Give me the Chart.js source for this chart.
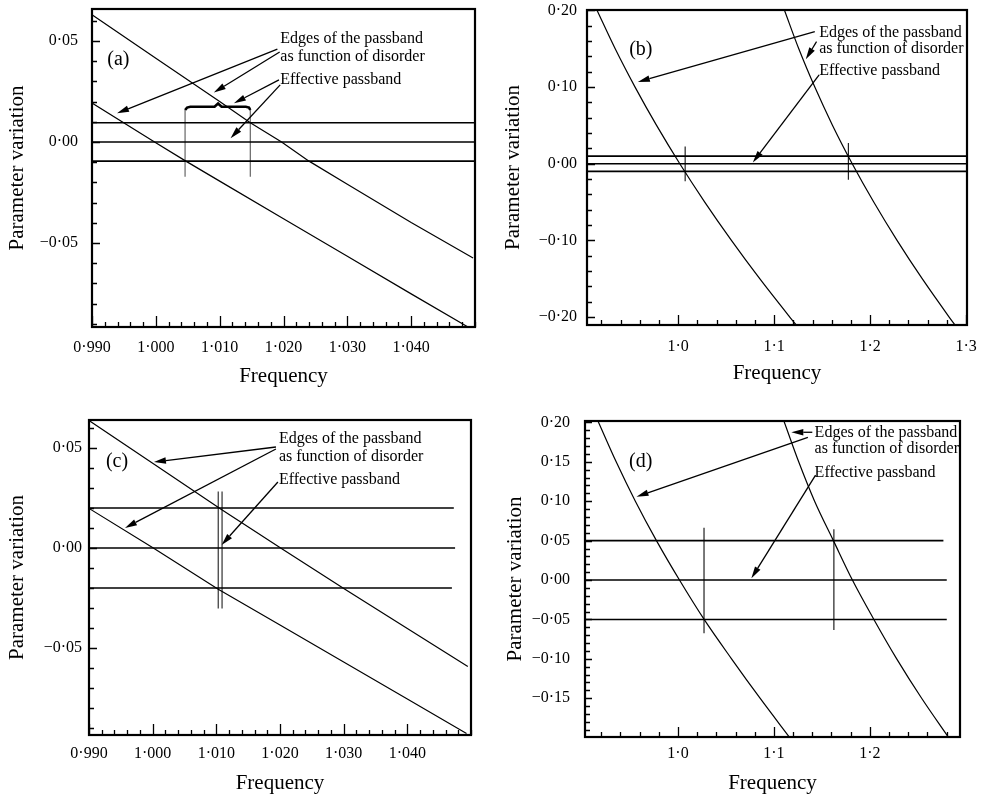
<!DOCTYPE html>
<html>
<head>
<meta charset="utf-8">
<title>Passband edges vs disorder</title>
<script src="https://cdn.jsdelivr.net/npm/chart.js@4.4.1/dist/chart.umd.min.js"></script>
<style>
  html, body { margin: 0; padding: 0; background: #fff; }
  #figure { position: relative; width: 981px; height: 797px; overflow: hidden; }
  #figure canvas { position: absolute; }
</style>
</head>
<body>
<div id="figure">
  <canvas id="panel-a" width="490" height="400" style="left:0;top:0"></canvas>
  <canvas id="panel-b" width="491" height="400" style="left:490px;top:0"></canvas>
  <canvas id="panel-c" width="490" height="397" style="left:0;top:400px"></canvas>
  <canvas id="panel-d" width="491" height="397" style="left:490px;top:400px"></canvas>
</div>
<script>
// ---- panel (a) ----
const freqUpperA = [0.990, 1.000, 1.010, 1.0148, 1.0197, 1.024, 1.030, 1.040, 1.0497];
const edgeUpperA = [0.0629, 0.0414, 0.0200, 0.0095, 0.0, -0.0095, -0.0209, -0.0399, -0.0574];
const freqLowerA = [0.990, 0.9998, 1.0047, 1.010, 1.020, 1.030, 1.040, 1.0489];
const edgeLowerA = [0.0193, 0.0, -0.0095, -0.0194, -0.0380, -0.0566, -0.0752, -0.0916];
const bandLevelA = [0.0095, 0, -0.0095];
const bandStartA = [0.990, 0.990, 0.990];
const bandEndA = [1.050, 1.050, 1.050];
const markerFreqA = [1.00458, 1.0148];
const markerTopA = [0.0158, 0.0158];
const markerBottomA = [-0.0172, -0.0172];
const braceFreqA = [1.00458, 1.0049, 1.0054, 1.0092, 1.00975, 1.0103, 1.0141, 1.0146, 1.0148];
const braceLevelA = [0.0158, 0.0170, 0.0174, 0.0174, 0.0190, 0.0174, 0.0174, 0.0170, 0.0158];
const xMajorA = [0.990, 1.000, 1.010, 1.020, 1.030, 1.040];
const xLabelA = ['0·990', '1·000', '1·010', '1·020', '1·030', '1·040'];
const yMajorA = [0.05, 0, -0.05];
const yLabelA = ['0·05', '0·00', '−0·05'];

// ---- panel (b) ----
const freqLeftB = [0.9153, 0.9344, 0.9551, 0.9775, 1.0017, 1.0277, 1.0555, 1.0850, 1.1163, 1.123];
const edgeLeftB = [0.2006, 0.15, 0.10, 0.05, 0.0, -0.05, -0.10, -0.15, -0.20, -0.2104];
const freqRightB = [1.1107, 1.1257, 1.1424, 1.1609, 1.1814, 1.2038, 1.2281, 1.2543, 1.2824, 1.2885];
const edgeRightB = [0.2006, 0.15, 0.10, 0.05, 0.0, -0.05, -0.10, -0.15, -0.20, -0.2104];
const bandLevelB = [0.01, 0, -0.01];
const bandStartB = [0.905, 0.905, 0.905];
const bandEndB = [1.301, 1.301, 1.301];
const markerFreqB = [1.0073, 1.1774];
const markerTopB = [0.0225, 0.027];
const markerBottomB = [-0.023, -0.021];
const xMajorB = [1.0, 1.1, 1.2, 1.3];
const xLabelB = ['1·0', '1·1', '1·2', '1·3'];
const yMajorB = [0.2, 0.1, 0, -0.1, -0.2];
const yLabelB = ['0·20', '0·10', '0·00', '−0·10', '−0·20'];

// ---- panel (c) ----
const freqUpperC = [0.990, 1.000, 1.0108, 1.0201, 1.0302, 1.040, 1.0495];
const edgeUpperC = [0.0637, 0.0424, 0.0193, 0.0, -0.0206, -0.0402, -0.0593];
const freqLowerC = [0.990, 1.0001, 1.0103, 1.020, 1.030, 1.040, 1.0493];
const edgeLowerC = [0.0198, 0.0, -0.0206, -0.0385, -0.0570, -0.0755, -0.0927];
const bandLevelC = [0.02, 0, -0.02];
const bandStartC = [0.990, 0.990, 0.990];
const bandEndC = [1.0473, 1.0475, 1.0470];
const markerFreqC = [1.0103, 1.0109];
const markerTopC = [0.0282, 0.0282];
const markerBottomC = [-0.0302, -0.0302];
const xMajorC = [0.990, 1.000, 1.010, 1.020, 1.030, 1.040];
const xLabelC = ['0·990', '1·000', '1·010', '1·020', '1·030', '1·040'];
const yMajorC = [0.05, 0, -0.05];
const yLabelC = ['0·05', '0·00', '−0·05'];

// ---- panel (d) ----
const freqLeftD = [0.9165, 0.9355, 0.9555, 0.9775, 1.0015, 1.0272, 1.0558, 1.0855, 1.1165];
const edgeLeftD = [0.2018, 0.15, 0.10, 0.05, 0.0, -0.05, -0.10, -0.15, -0.20];
const freqRightD = [1.1104, 1.1258, 1.1424, 1.1620, 1.1818, 1.2042, 1.2280, 1.2540, 1.2822];
const edgeRightD = [0.2018, 0.15, 0.10, 0.05, 0.0, -0.05, -0.10, -0.15, -0.20];
const bandLevelD = [0.05, 0, -0.05];
const bandStartD = [0.903, 0.903, 0.903];
const bandEndD = [1.2767, 1.2802, 1.2802];
const markerFreqD = [1.0271, 1.1625];
const markerTopD = [0.0664, 0.0643];
const markerBottomD = [-0.0677, -0.0635];
const xMajorD = [1.0, 1.1, 1.2];
const xLabelD = ['1·0', '1·1', '1·2'];
const yMajorD = [0.20, 0.15, 0.10, 0.05, 0, -0.05, -0.10, -0.15];
const yLabelD = ['0·20', '0·15', '0·10', '0·05', '0·00', '−0·05', '−0·10', '−0·15'];

const SERIF = '"Liberation Serif", "DejaVu Serif", "Times New Roman", serif';
Chart.defaults.font.family = SERIF;
Chart.defaults.color = '#000';

const noteLines = ['Edges of the passband', 'as function of disorder', 'Effective passband'];

// ticks every `step` inside [min, max]; the labelled ones come from the major lists
function stepTicks(min, max, step) {
  const ticks = [];
  const first = Math.ceil(min / step - 1e-6);
  const last = Math.floor(max / step + 1e-6);
  for (let i = first; i <= last; i++) {
    ticks.push({ value: +(i * step).toFixed(6) });
  }
  return ticks;
}

function labelFor(value, majors, labels, step) {
  const k = majors.findIndex(m => Math.abs(m - value) < step / 10);
  return k >= 0 ? labels[k] : '';
}

function line(xs, ys, width, color, smooth) {
  return {
    data: xs.map((v, i) => ({ x: v, y: ys[i] })),
    showLine: true,
    borderColor: color,
    borderWidth: width,
    pointRadius: 0,
    fill: false,
    tension: 0,
    cubicInterpolationMode: smooth ? 'monotone' : 'default'
  };
}

function bands(levels, starts, ends) {
  return levels.map((lv, i) => line([starts[i], ends[i]], [lv, lv], 1.6, '#000', false));
}

function markers(freqs, tops, bottoms, color) {
  return freqs.map((f, i) => line([f, f], [tops[i], bottoms[i]], 1.2, color, false));
}

function scaleOptions(axis, s) {
  return {
    type: 'linear',
    position: axis === 'x' ? 'bottom' : 'left',
    min: s.min,
    max: s.max,
    grid: { display: false, drawTicks: false },
    border: { display: false },
    afterBuildTicks: scale => { scale.ticks = stepTicks(s.min, s.max, s.step); },
    afterFit: scale => {
      if (axis === 'x') scale.height = s.size; else scale.width = s.size;
      // plot box is fixed by the layout padding, labels may overhang it
      scale.paddingTop = scale.paddingBottom = scale.paddingLeft = scale.paddingRight = 0;
    },
    ticks: {
      autoSkip: false,
      maxRotation: 0,
      minRotation: 0,
      padding: s.tickPad,
      color: '#000',
      font: { size: 16 },
      callback: v => labelFor(v, s.majors, s.labels, s.step)
    },
    title: {
      display: true,
      text: axis === 'x' ? 'Frequency' : 'Parameter variation',
      color: '#000',
      font: { size: 21, lineHeight: 1 },
      padding: axis === 'x' ? { top: 0, bottom: s.titlePad } : { top: s.titlePad, bottom: 0 }
    }
  };
}

// frame round the plot plus inward tick marks
const frameTicks = {
  id: 'frameTicks',
  afterDatasetsDraw(chart, args, opts) {
    const { ctx, chartArea: a, scales: { x, y } } = chart;
    ctx.save();
    ctx.strokeStyle = '#000';
    ctx.lineWidth = 1.3;
    ctx.beginPath();
    x.ticks.forEach(t => {
      const px = Math.round(x.getPixelForValue(t.value)) + 0.5;
      ctx.moveTo(px, a.bottom);
      ctx.lineTo(px, a.bottom - (t.label ? opts.xMajor : opts.xMinor));
    });
    y.ticks.forEach(t => {
      const py = Math.round(y.getPixelForValue(t.value)) + 0.5;
      ctx.moveTo(a.left, py);
      ctx.lineTo(a.left + (t.label ? opts.yMajor : opts.yMinor), py);
    });
    ctx.stroke();
    ctx.lineWidth = 2.2;
    ctx.strokeRect(a.left, a.top, a.right - a.left, a.bottom - a.top);
    ctx.restore();
  }
};

function arrow(ctx, x0, y0, x1, y1) {
  const ang = Math.atan2(y1 - y0, x1 - x0);
  const len = 12, half = 3.2;
  const bx = x1 - len * Math.cos(ang), by = y1 - len * Math.sin(ang);
  ctx.beginPath();
  ctx.moveTo(x0, y0);
  ctx.lineTo(bx, by);
  ctx.stroke();
  ctx.beginPath();
  ctx.moveTo(x1, y1);
  ctx.lineTo(bx + half * Math.sin(ang), by - half * Math.cos(ang));
  ctx.lineTo(bx - half * Math.sin(ang), by + half * Math.cos(ang));
  ctx.closePath();
  ctx.fill();
}

// panel letter, explanatory text and arrows, placed in data units
const notes = {
  id: 'notes',
  afterDatasetsDraw(chart, args, opts) {
    const { ctx, scales: { x, y } } = chart;
    ctx.save();
    ctx.fillStyle = '#000';
    ctx.strokeStyle = '#000';
    ctx.lineWidth = 1.3;
    ctx.textBaseline = 'middle';
    ctx.textAlign = 'center';
    ctx.font = '20px ' + SERIF;
    ctx.fillText(opts.letter, x.getPixelForValue(opts.letterAt[0]), y.getPixelForValue(opts.letterAt[1]));
    ctx.textAlign = 'left';
    ctx.font = '16px ' + SERIF;
    noteLines.forEach((txt, i) => {
      ctx.fillText(txt, x.getPixelForValue(opts.textX), y.getPixelForValue(opts.textY[i]));
    });
    opts.arrows.forEach(([fx, fy, tx, ty]) => {
      arrow(ctx, x.getPixelForValue(fx), y.getPixelForValue(fy), x.getPixelForValue(tx), y.getPixelForValue(ty));
    });
    ctx.restore();
  }
};

function makePanel(id, datasets, xs, ys, pad, note) {
  return new Chart(document.getElementById(id), {
    type: 'scatter',
    data: { datasets },
    plugins: [frameTicks, notes],
    options: {
      responsive: false,
      animation: false,
      events: [],
      layout: { padding: { top: pad.top, right: pad.right, bottom: 0, left: 0 } },
      scales: { x: scaleOptions('x', xs), y: scaleOptions('y', ys) },
      plugins: {
        legend: { display: false },
        tooltip: { enabled: false },
        frameTicks: pad.ticks,
        notes: note
      }
    }
  });
}

makePanel('panel-a',
  [
    line(freqUpperA, edgeUpperA, 1.2, '#000', false),
    line(freqLowerA, edgeLowerA, 1.2, '#000', false),
    ...bands(bandLevelA, bandStartA, bandEndA),
    ...markers(markerFreqA, markerTopA, markerBottomA, '#666'),
    line(braceFreqA, braceLevelA, 2.6, '#000', false)
  ],
  { min: 0.990, max: 1.050, step: 0.002, majors: xMajorA, labels: xLabelA, size: 73, tickPad: 11, titlePad: 13.5 },
  { min: -0.0916, max: 0.0658, step: 0.01, majors: yMajorA, labels: yLabelA, size: 92, tickPad: 14, titlePad: 6.5 },
  { top: 9, right: 15, ticks: { xMajor: 11, xMinor: 5, yMajor: 8, yMinor: 5 } },
  {
    letter: '(a)', letterAt: [0.99413, 0.0406],
    textX: 1.0195, textY: [0.0510, 0.0421, 0.0307],
    arrows: [
      [1.01904, 0.04589, 0.99392, 0.01421],
      [1.01940, 0.04455, 1.00909, 0.02441],
      [1.01929, 0.03069, 1.01223, 0.01916],
      [1.01948, 0.02822, 1.01171, 0.00183]
    ]
  });

makePanel('panel-b',
  [
    line(freqLeftB, edgeLeftB, 1.2, '#000', true),
    line(freqRightB, edgeRightB, 1.2, '#000', true),
    ...bands(bandLevelB, bandStartB, bandEndB),
    ...markers(markerFreqB, markerTopB, markerBottomB, '#222')
  ],
  { min: 0.905, max: 1.301, step: 0.02, majors: xMajorB, labels: xLabelB, size: 75, tickPad: 12.4, titlePad: 16.5 },
  { min: -0.2104, max: 0.2006, step: 0.02, majors: yMajorB, labels: yLabelB, size: 97, tickPad: 10, titlePad: 12.5 },
  { top: 10, right: 14, ticks: { xMajor: 10, xMinor: 5, yMajor: 8, yMinor: 5 } },
  {
    letter: '(b)', letterAt: [0.9611, 0.1485],
    textX: 1.1469, textY: [0.1711, 0.1494, 0.1216],
    arrows: [
      [1.1424, 0.1724, 0.9580, 0.1068],
      [1.1442, 0.1593, 1.1330, 0.1364],
      [1.1469, 0.1160, 1.0778, 0.0017]
    ]
  });

makePanel('panel-c',
  [
    line(freqUpperC, edgeUpperC, 1.2, '#000', false),
    line(freqLowerC, edgeLowerC, 1.2, '#000', false),
    ...bands(bandLevelC, bandStartC, bandEndC),
    ...markers(markerFreqC, markerTopC, markerBottomC, '#333')
  ],
  { min: 0.990, max: 1.050, step: 0.002, majors: xMajorC, labels: xLabelC, size: 62, tickPad: 9.4, titlePad: 3.5 },
  { min: -0.0935, max: 0.064, step: 0.01, majors: yMajorC, labels: yLabelC, size: 89, tickPad: 7, titlePad: 6.5 },
  { top: 20, right: 19, ticks: { xMajor: 11, xMinor: 5, yMajor: 8, yMinor: 5 } },
  {
    letter: '(c)', letterAt: [0.99440, 0.0430],
    textX: 1.01983, textY: [0.0545, 0.0455, 0.0340],
    arrows: [
      [1.01936, 0.0505, 1.00020, 0.0430],
      [1.01936, 0.0495, 0.99565, 0.0100],
      [1.01967, 0.0330, 1.01083, 0.0015]
    ]
  });

makePanel('panel-d',
  [
    line(freqLeftD, edgeLeftD, 1.2, '#000', true),
    line(freqRightD, edgeRightD, 1.2, '#000', true),
    ...bands(bandLevelD, bandStartD, bandEndD),
    ...markers(markerFreqD, markerTopD, markerBottomD, '#222')
  ],
  { min: 0.903, max: 1.294, step: 0.02, majors: xMajorD, labels: xLabelD, size: 60, tickPad: 7.4, titlePad: 3.5 },
  { min: -0.1992, max: 0.2018, step: 0.01, majors: yMajorD, labels: yLabelD, size: 95, tickPad: 15, titlePad: 14.5 },
  { top: 21, right: 21, ticks: { xMajor: 10, xMinor: 5, yMajor: 7, yMinor: 5 } },
  {
    letter: '(d)', letterAt: [0.9611, 0.1501],
    textX: 1.1424, textY: [0.1869, 0.1659, 0.1362],
    arrows: [
      [1.1400, 0.1875, 1.1181, 0.1875],
      [1.1354, 0.1811, 0.9567, 0.1057],
      [1.1434, 0.1332, 1.0765, 0.0022]
    ]
  });
</script>
</body>
</html>
